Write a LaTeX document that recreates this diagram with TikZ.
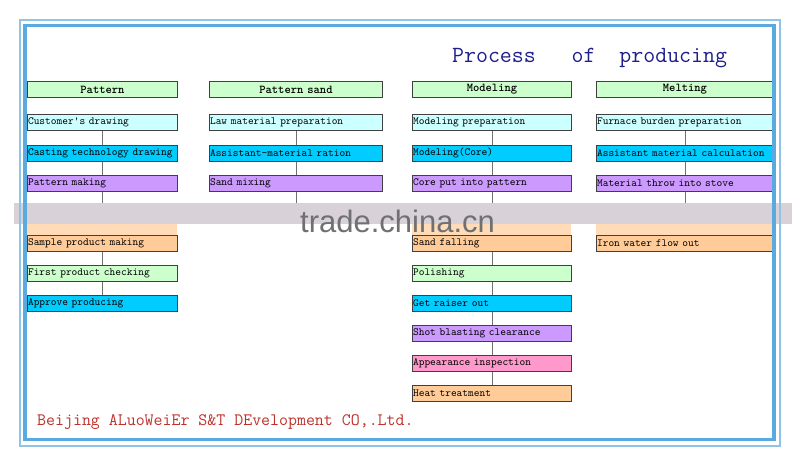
\documentclass[tikz,border=0pt]{standalone}
\usepackage{fontspec}
\newfontfamily\marcaf{Liberation Sans}
\usepackage{tikz}
\definecolor{verdeclaro}{HTML}{CCFFCC}
\definecolor{cielo}{HTML}{CCFFFF}
\definecolor{celeste}{HTML}{00CCFF}
\definecolor{lila}{HTML}{CC99FF}
\definecolor{naranja}{HTML}{FFCC99}
\definecolor{rosa}{HTML}{FF99CC}
\definecolor{borde}{HTML}{404040}
\definecolor{gris}{HTML}{707070}
\definecolor{marco}{HTML}{5AAAE0}
\definecolor{marcofino}{HTML}{8FC4E6}
\definecolor{titulo}{HTML}{1E1E8C}
\definecolor{pie}{HTML}{C0302A}
\definecolor{banda}{HTML}{D8D2D8}
\tikzstyle{paso}=[draw=borde, line width=0.9pt, anchor=north west, minimum height=16pt, inner xsep=0.6pt, inner ysep=0pt, align=left, font=\ttfamily\fontsize{10.9}{12}\selectfont]
\tikzstyle{cabecera}=[paso, align=center, font=\ttfamily\bfseries\fontsize{12}{13}\selectfont]
\tikzstyle{conector}=[draw=gris, line width=0.9pt]

\begin{document}
\begin{tikzpicture}[x=1pt, y=-1pt]
            \useasboundingbox (0,0) rectangle (800,467);
            \fill[white] (0,0) rectangle (800,467);

            % cabeceras
            \node[cabecera, fill=verdeclaro, text width=148.8pt] (pat0) at (27,81) {Pattern};
            \node[cabecera, fill=verdeclaro, text width=171.8pt] (san0) at (209,81) {Pattern sand};
            \node[cabecera, fill=verdeclaro, text width=157.8pt] (mod0) at (412,81) {Modeling};
            \node[cabecera, fill=verdeclaro, text width=175.8pt] (mel0) at (596,81) {Melting};

            % Pattern
            \node[paso, fill=cielo, text width=148.8pt] (pat1) at (27,114) {Customer's drawing};
            \node[paso, fill=celeste, text width=148.8pt] (pat2) at (27,145) {Casting technology drawing};
            \node[paso, fill=lila, text width=148.8pt] (pat3) at (27,175) {Pattern making};
            \node[paso, fill=naranja, text width=148.8pt] (pat4) at (27,205) {};
            \node[paso, fill=naranja, text width=148.8pt] (pat5) at (27,235) {Sample product making};
            \node[paso, fill=verdeclaro, text width=148.8pt] (pat6) at (27,265) {First product checking};
            \node[paso, fill=celeste, text width=148.8pt] (pat7) at (27,295) {Approve producing};

            % Pattern sand
            \node[paso, fill=cielo, text width=171.8pt] (san1) at (209,114) {Law material preparation};
            \node[paso, fill=celeste, text width=171.8pt] (san2) at (209,145) {Assistant-material ration};
            \node[paso, fill=lila, text width=171.8pt] (san3) at (209,175) {Sand mixing};
            \node[paso, fill=naranja, text width=171.8pt] (san4) at (209,205) {};

            % Modeling
            \node[paso, fill=cielo, text width=157.8pt] (mod1) at (412,114) {Modeling preparation};
            \node[paso, fill=celeste, text width=157.8pt] (mod2) at (412,145) {Modeling(Core)};
            \node[paso, fill=lila, text width=157.8pt] (mod3) at (412,175) {Core put into pattern};
            \node[paso, fill=naranja, text width=157.8pt] (mod4) at (412,205) {};
            \node[paso, fill=naranja, text width=157.8pt] (mod5) at (412,235) {Sand falling};
            \node[paso, fill=verdeclaro, text width=157.8pt] (mod6) at (412,265) {Polishing};
            \node[paso, fill=celeste, text width=157.8pt] (mod7) at (412,295) {Get raiser out};
            \node[paso, fill=lila, text width=157.8pt] (mod8) at (412,325) {Shot blasting clearance};
            \node[paso, fill=rosa, text width=157.8pt] (mod9) at (412,355) {Appearance inspection};
            \node[paso, fill=naranja, text width=157.8pt] (mod10) at (412,385) {Heat treatment};

            % Melting
            \node[paso, fill=cielo, text width=175.8pt] (mel1) at (596,114) {Furnace burden preparation};
            \node[paso, fill=celeste, text width=175.8pt] (mel2) at (596,145) {Assistant material calculation};
            \node[paso, fill=lila, text width=175.8pt] (mel3) at (596,175) {Material throw into stove};
            \node[paso, fill=naranja, text width=175.8pt] (mel4) at (596,205) {};
            \node[paso, fill=naranja, text width=175.8pt] (mel5) at (596,235) {Iron water flow out};

            % conectores
            \draw[conector] (pat1) -- (pat2) -- (pat3) -- (pat4) -- (pat5) -- (pat6) -- (pat7);
            \draw[conector] (san1) -- (san2) -- (san3) -- (san4);
            \draw[conector] (mod1) -- (mod2) -- (mod3) -- (mod4) -- (mod5) -- (mod6) -- (mod7) -- (mod8) -- (mod9) -- (mod10);
            \draw[conector] (mel1) -- (mel2) -- (mel3) -- (mel4) -- (mel5);

            % marca de agua
            \fill[banda] (14,203) rectangle (792,224);
            \fill[naranja!70!white] (27,224) rectangle (177,235);
            \fill[naranja!70!white] (412,224) rectangle (571,235);
            \fill[naranja!70!white] (596,224) rectangle (773,235);
            \node[font=\marcaf\fontsize{31}{31}\selectfont, text=gris, anchor=base west, inner sep=0pt] (marca) at (300,232) {trade.china.cn};

            % marco
            \draw[marcofino, line width=1.5pt] (19.8,19.8) rectangle (780,446);
            \draw[marco, line width=3.5pt] (25,25.3) rectangle (774,439.5);

            % textos
            \node[font=\ttfamily\fontsize{23.2}{25}\selectfont, text=titulo, anchor=base west, inner sep=0pt] (tit) at (452,62) {Process\ \ \ of\ \ producing};
            \node[font=\ttfamily\fontsize{17.4}{19}\selectfont, text=pie, anchor=base west, inner sep=0pt] (pie) at (37,425) {Beijing ALuoWeiEr S\&T DEvelopment CO,.Ltd.};
        \end{tikzpicture}
\end{document}
